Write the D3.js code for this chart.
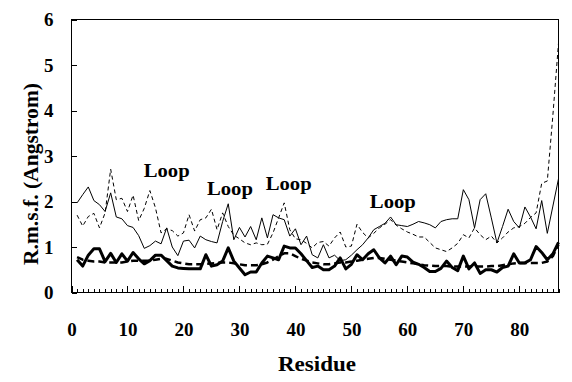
<!DOCTYPE html>
<html>
<head>
<meta charset="utf-8">
<script src="https://cdn.jsdelivr.net/npm/d3@7"></script>
<style>
  html, body { margin: 0; padding: 0; background: #fff; }
  svg { display: block; }
  text { font-family: "Liberation Serif", "Times New Roman", serif; font-weight: bold; fill: #000; }
</style>
</head>
<body>
<svg id="chart" width="572" height="382"></svg>
<script>
// ---------- data ----------
const residues = [1,2,3,4,5,6,7,8,9,10,11,12,13,14,15,16,17,18,19,20,21,22,23,24,25,26,27,28,29,30,
  31,32,33,34,35,36,37,38,39,40,41,42,43,44,45,46,47,48,49,50,51,52,53,54,55,56,57,58,59,60,
  61,62,63,64,65,66,67,68,69,70,71,72,73,74,75,76,77,78,79,80,81,82,83,84,85,86,87];

const thinSolid = [1.97,2.15,2.32,2.02,1.93,1.78,2.19,1.66,1.62,1.47,1.43,1.25,0.97,1.03,1.13,1.07,1.42,1.0,0.81,1.13,
  1.15,0.98,1.24,1.16,1.12,1.09,1.56,1.95,1.16,1.43,1.22,1.45,1.16,1.64,1.2,1.71,1.64,1.6,1.24,1.4,
  1.05,1.24,0.83,0.76,1.05,0.76,0.82,0.7,0.72,0.82,0.94,1.05,1.2,1.38,1.45,1.52,1.66,1.49,1.47,1.45,
  1.5,1.56,1.53,1.49,1.42,1.56,1.6,1.62,1.62,2.26,2.04,1.42,2.04,2.17,1.64,1.09,1.45,1.83,1.56,1.42,
  1.88,1.66,1.4,2.02,1.3,1.9,2.5];

const thinDashed = [1.7,1.46,1.67,1.74,1.42,1.75,2.71,2.04,2.07,1.78,2.14,1.58,1.85,2.24,1.86,1.31,1.4,1.36,1.24,1.31,
  1.71,1.35,1.6,1.64,1.83,1.38,1.75,1.45,1.26,1.18,1.09,1.05,1.09,1.05,1.06,1.31,1.64,1.97,1.38,1.18,
  1.16,1.08,0.98,1.1,1.12,1.02,1.2,1.33,1.0,1.02,1.5,1.32,1.2,1.3,1.42,1.5,1.6,1.48,1.4,1.33,
  1.28,1.22,1.22,1.1,0.98,0.94,0.9,0.98,1.08,1.27,1.2,1.42,1.27,1.16,1.24,1.09,1.2,1.33,1.42,1.45,
  1.52,1.65,1.75,2.4,2.45,3.9,5.48];

const thickSolid = [0.72,0.58,0.82,0.96,0.96,0.68,0.86,0.66,0.85,0.69,0.88,0.74,0.63,0.7,0.82,0.82,0.7,0.58,0.54,0.53,
  0.52,0.52,0.52,0.83,0.58,0.61,0.69,0.98,0.69,0.54,0.39,0.45,0.45,0.65,0.8,0.76,0.72,1.02,0.98,0.98,
  0.85,0.7,0.55,0.58,0.5,0.5,0.58,0.76,0.52,0.62,0.83,0.72,0.85,0.94,0.76,0.65,0.8,0.61,0.8,0.78,
  0.67,0.62,0.55,0.46,0.46,0.53,0.69,0.55,0.48,0.8,0.52,0.65,0.42,0.5,0.5,0.45,0.55,0.58,0.85,0.65,
  0.65,0.72,1.01,0.88,0.72,0.85,1.1];

const thickDashed = [0.78,0.72,0.7,0.68,0.68,0.66,0.66,0.66,0.66,0.68,0.7,0.7,0.7,0.7,0.72,0.74,0.74,0.7,0.66,0.64,
  0.62,0.62,0.62,0.63,0.64,0.65,0.66,0.66,0.64,0.62,0.6,0.6,0.6,0.62,0.66,0.72,0.8,0.86,0.86,0.8,
  0.74,0.7,0.66,0.64,0.62,0.62,0.64,0.66,0.66,0.68,0.7,0.72,0.74,0.76,0.76,0.74,0.72,0.7,0.68,0.66,
  0.64,0.62,0.6,0.59,0.58,0.58,0.58,0.57,0.57,0.57,0.57,0.57,0.57,0.57,0.58,0.58,0.6,0.62,0.64,0.65,
  0.65,0.65,0.65,0.65,0.68,0.8,1.05];

const xTickLabels = [0,10,20,30,40,50,60,70,80];
const yTickLabels = [0,1,2,3,4,5,6];
const xMinorTicks = [0,1,2,3,4,5,6,7,8,9,10,11,12,13,14,15,16,17,18,19,20,21,22,23,24,25,26,27,28,29,
  30,31,32,33,34,35,36,37,38,39,40,41,42,43,44,45,46,47,48,49,50,51,52,53,54,55,56,57,58,59,
  60,61,62,63,64,65,66,67,68,69,70,71,72,73,74,75,76,77,78,79,80,81,82,83,84,85,86,87];

const loopLabels = ["Loop","Loop","Loop","Loop"];
const loopResidue = [12.9, 24.2, 34.7, 53.3];  // residue at label's left edge
const loopValue = [2.53, 2.15, 2.26, 1.86];     // value at label baseline

const xTitle = "Residue";
const yTitle = "R.m.s.f. (Angstrom)";

// ---------- layout ----------
const L = 71.5, R = 558.5, T = 19.5, B = 292.5;
const svg = d3.select("#chart");

const x = d3.scaleLinear().domain([0, 87]).range([L, R]);
const y = d3.scaleLinear().domain([0, 6]).range([B, T]);

// frame
svg.append("rect")
  .attr("x", L).attr("y", T).attr("width", R - L).attr("height", B - T)
  .attr("fill", "none").attr("stroke", "#000").attr("stroke-width", 1)
  .attr("shape-rendering", "crispEdges");

// y axis (ticks inward)
const yAxis = svg.append("g").attr("transform", `translate(${L},0)`)
  .call(d3.axisLeft(y).tickValues(yTickLabels).tickSize(-5).tickPadding(18).tickFormat(d3.format("d")));
yAxis.select(".domain").remove();
yAxis.selectAll("line").attr("stroke", "#000").attr("shape-rendering", "crispEdges");
yAxis.selectAll("text").style("font-size", "19px").attr("font-family", null);

// x axis minor ticks
const xMinor = svg.append("g").attr("transform", `translate(0,${B})`)
  .call(d3.axisBottom(x).tickValues(xMinorTicks).tickSize(-4).tickFormat(""));
xMinor.select(".domain").remove();
xMinor.selectAll("line").attr("stroke", "#000").attr("shape-rendering", "crispEdges");

// x axis major ticks + labels
const xAxis = svg.append("g").attr("transform", `translate(0,${B})`)
  .call(d3.axisBottom(x).tickValues(xTickLabels).tickSize(-7).tickPadding(30).tickFormat(d3.format("d")));
xAxis.select(".domain").remove();
xAxis.selectAll("line").attr("stroke", "#000").attr("shape-rendering", "crispEdges");
xAxis.selectAll("text").style("font-size", "19px");
svg.selectAll(".tick text").attr("font-family", null);

// lines
const line = d3.line().x((d, i) => x(residues[i])).y(d => y(d));

function drawLine(data, width, dash) {
  svg.append("path").datum(data)
    .attr("d", line)
    .attr("fill", "none")
    .attr("stroke", "#000")
    .attr("stroke-width", width)
    .attr("stroke-linejoin", "round")
    .attr("stroke-dasharray", dash);
}
drawLine(thinDashed, 1, "4,3");
drawLine(thinSolid, 1, null);
drawLine(thickDashed, 2.5, "7,4");
drawLine(thickSolid, 3, null);

// loop labels
svg.selectAll(".loop").data(loopLabels).enter().append("text")
  .attr("class", "loop")
  .attr("x", (d, i) => x(loopResidue[i]))
  .attr("y", (d, i) => y(loopValue[i]))
  .attr("textLength", 46).attr("lengthAdjust", "spacingAndGlyphs")
  .style("font-size", "18px")
  .text(d => d);

// titles
svg.append("text")
  .attr("x", 317).attr("y", 371)
  .attr("text-anchor", "middle")
  .attr("textLength", 78).attr("lengthAdjust", "spacingAndGlyphs")
  .style("font-size", "22px")
  .text(xTitle);

svg.append("text")
  .attr("transform", "translate(38,174) rotate(-90)")
  .attr("text-anchor", "middle")
  .attr("textLength", 182).attr("lengthAdjust", "spacingAndGlyphs")
  .style("font-size", "22px")
  .text(yTitle);
</script>
</body>
</html>
